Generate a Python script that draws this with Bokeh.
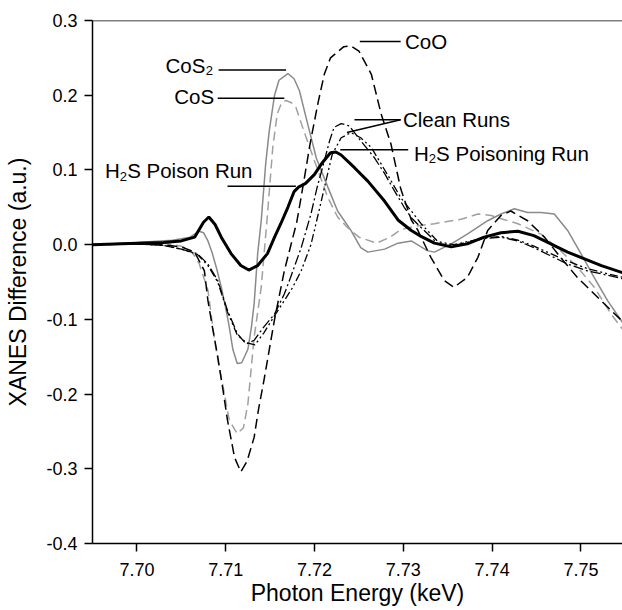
from bokeh.plotting import figure
from bokeh.models import Range1d, FixedTicker, Label, Span, NumeralTickFormatter
from bokeh.embed import file_html
from bokeh.resources import INLINE

# ---------------- data ----------------
# H2S Poison Run (thick black solid)
energy_poison = [7.695, 7.700, 7.703, 7.705, 7.7065, 7.7075, 7.7081, 7.7088, 7.7095, 7.7106,
                 7.7117, 7.7126, 7.7136, 7.7147, 7.7155, 7.7162, 7.7170, 7.7177, 7.7182, 7.7190,
                 7.7200, 7.7209, 7.7218, 7.7224, 7.7230, 7.7245, 7.7260, 7.7279, 7.7294, 7.7309,
                 7.7320, 7.7335, 7.7354, 7.7372, 7.7391, 7.7410, 7.7429, 7.7447, 7.7466, 7.7485,
                 7.7504, 7.7523, 7.7548]
xanes_poison = [0.000, 0.002, 0.003, 0.005, 0.010, 0.030, 0.037, 0.027, 0.010, -0.012,
                -0.028, -0.034, -0.028, -0.012, 0.010, 0.028, 0.050, 0.071, 0.077, 0.082,
                0.094, 0.110, 0.123, 0.124, 0.120, 0.103, 0.085, 0.058, 0.033, 0.019,
                0.011, 0.002, -0.003, 0.001, 0.010, 0.016, 0.018, 0.012, 0.001, -0.010,
                -0.019, -0.028, -0.038]

# CoS2 (gray solid)
energy_cos2 = [7.695, 7.700, 7.704, 7.706, 7.707, 7.7075, 7.708, 7.7085, 7.709, 7.7095,
               7.7100, 7.7104, 7.7108, 7.7113, 7.7118, 7.7125, 7.7129, 7.7132, 7.7136, 7.7140,
               7.7145, 7.7149, 7.7155, 7.7160, 7.7170, 7.7177, 7.7183, 7.7192, 7.7202, 7.7215,
               7.7226, 7.7241, 7.7252, 7.7260, 7.7279, 7.7294, 7.7309, 7.7327, 7.7335, 7.7354,
               7.7372, 7.7395, 7.7410, 7.7425, 7.7440, 7.7455, 7.7470, 7.7485, 7.7500, 7.7515,
               7.7530, 7.7548]
xanes_cos2 = [0.000, 0.003, 0.006, 0.010, 0.018, 0.016, 0.005, -0.012, -0.033, -0.057,
              -0.085, -0.110, -0.140, -0.159, -0.158, -0.140, -0.110, -0.079, -0.012, 0.032,
              0.108, 0.152, 0.200, 0.220, 0.229, 0.222, 0.206, 0.163, 0.116, 0.077,
              0.045, 0.019, -0.004, -0.010, -0.006, 0.002, 0.005, -0.008, -0.010, 0.001,
              0.014, 0.032, 0.041, 0.048, 0.043, 0.043, 0.041, 0.019, -0.012, -0.044,
              -0.075, -0.106]

# CoS (gray dashed)
energy_cos = [7.695, 7.700, 7.703, 7.705, 7.7061, 7.707, 7.708, 7.7087, 7.7092, 7.7097,
              7.7104, 7.7113, 7.7120, 7.7125, 7.7132, 7.7140, 7.7147, 7.7153, 7.7158, 7.7163,
              7.7168, 7.7174, 7.7179, 7.7188, 7.7200, 7.7215, 7.7226, 7.7237, 7.7250, 7.7270,
              7.7285, 7.7297, 7.7315, 7.7335, 7.7365, 7.7384, 7.7399, 7.7415, 7.7429, 7.7455,
              7.7477, 7.7496, 7.7515, 7.7534, 7.7548]
xanes_cos = [0.000, 0.002, 0.002, -0.002, -0.008, -0.025, -0.061, -0.124, -0.160, -0.190,
             -0.235, -0.253, -0.245, -0.213, -0.124, -0.057, 0.040, 0.130, 0.175, 0.190,
             0.193, 0.190, 0.184, 0.152, 0.112, 0.063, 0.037, 0.023, 0.010, 0.002,
             0.010, 0.020, 0.025, 0.028, 0.034, 0.041, 0.039, 0.033, 0.028, 0.014,
             -0.008, -0.030, -0.057, -0.093, -0.115]

# CoO (black dashed)
energy_coo = [7.695, 7.700, 7.703, 7.705, 7.7065, 7.7076, 7.708, 7.7085, 7.7091, 7.7097,
              7.7102, 7.7110, 7.7117, 7.7124, 7.7132, 7.7137, 7.7143, 7.7155, 7.7166, 7.7180,
              7.7188, 7.7195, 7.7204, 7.7211, 7.7218, 7.7233, 7.7241, 7.7250, 7.7264, 7.7275,
              7.7286, 7.7297, 7.7309, 7.7316, 7.7331, 7.7346, 7.7357, 7.7372, 7.7384, 7.7395,
              7.7410, 7.7421, 7.7440, 7.7459, 7.7477, 7.7496, 7.7515, 7.7534, 7.7548]
xanes_coo = [0.000, 0.001, 0.000, -0.003, -0.010, -0.035, -0.075, -0.110, -0.150, -0.195,
             -0.235, -0.285, -0.304, -0.290, -0.258, -0.220, -0.182, -0.100, -0.035, 0.030,
             0.085, 0.135, 0.190, 0.228, 0.250, 0.265, 0.266, 0.259, 0.228, 0.175,
             0.135, 0.075, 0.033, 0.020, -0.017, -0.048, -0.057, -0.044, -0.017, 0.019,
             0.039, 0.045, 0.032, 0.010, -0.017, -0.044, -0.066, -0.088, -0.104]

# Clean run 1 (black dash-dot)
energy_clean1 = [7.695, 7.700, 7.703, 7.705, 7.7068, 7.708, 7.7091, 7.7102, 7.7113, 7.7123,
                 7.7132, 7.7143, 7.7155, 7.7166, 7.7173, 7.7185, 7.7196, 7.7203, 7.7211, 7.7217,
                 7.7222, 7.7230, 7.7239, 7.7245, 7.7252, 7.7267, 7.7279, 7.7290, 7.7301, 7.7309,
                 7.7320, 7.7339, 7.7357, 7.7372, 7.7391, 7.7410, 7.7429, 7.7447, 7.7466, 7.7485,
                 7.7507, 7.7530, 7.7548]
xanes_clean1 = [0.000, 0.001, -0.001, -0.006, -0.012, -0.026, -0.048, -0.088, -0.119, -0.133,
                -0.128, -0.110, -0.093, -0.066, -0.044, -0.004, 0.041, 0.077, 0.112, 0.139,
                0.157, 0.162, 0.159, 0.150, 0.139, 0.117, 0.095, 0.072, 0.050, 0.036,
                0.023, 0.001, -0.001, 0.003, 0.008, 0.010, 0.005, -0.004, -0.015, -0.026,
                -0.035, -0.041, -0.046]

# Clean run 2 (black dash-dot-dot)
energy_clean2 = [7.695, 7.700, 7.703, 7.705, 7.7068, 7.708, 7.7091, 7.7102, 7.7113, 7.7123,
                 7.7133, 7.7143, 7.7155, 7.7166, 7.7175, 7.7185, 7.7196, 7.7205, 7.7213, 7.7220,
                 7.7230, 7.7241, 7.7252, 7.7264, 7.7275, 7.7286, 7.7297, 7.7309, 7.7320, 7.7339,
                 7.7357, 7.7372, 7.7391, 7.7410, 7.7429, 7.7447, 7.7466, 7.7485, 7.7507, 7.7530,
                 7.7548]
xanes_clean2 = [0.000, 0.001, -0.001, -0.006, -0.013, -0.028, -0.050, -0.090, -0.121, -0.131,
                -0.134, -0.118, -0.095, -0.075, -0.058, -0.035, 0.000, 0.045, 0.086, 0.121,
                0.143, 0.150, 0.143, 0.130, 0.108, 0.086, 0.063, 0.045, 0.028, 0.004,
                0.000, 0.004, 0.009, 0.011, 0.006, -0.002, -0.012, -0.022, -0.032, -0.039,
                -0.044]

x_ticks = [7.70, 7.71, 7.72, 7.73, 7.74, 7.75]
x_tick_labels = ["7.70", "7.71", "7.72", "7.73", "7.74", "7.75"]
y_ticks = [-0.4, -0.3, -0.2, -0.1, 0.0, 0.1, 0.2, 0.3]
y_tick_labels = ["-0.4", "-0.3", "-0.2", "-0.1", "0.0", "0.1", "0.2", "0.3"]

# annotation leader lines: (x0, y0, x1, y1)
leaders = [
    (7.7251, 0.272, 7.7297, 0.272),    # CoO
    (7.7092, 0.2336, 7.7168, 0.2336),  # CoS2
    (7.7091, 0.1961, 7.7166, 0.1961),  # CoS
    (7.7102, 0.078, 7.7179, 0.078),    # H2S Poison Run
    (7.7245, 0.1671, 7.7297, 0.1671),  # Clean Runs (1)
    (7.72365, 0.1501, 7.7297, 0.1671), # Clean Runs (2)
    (7.7229, 0.127, 7.73055, 0.127),   # H2S Poisoning Run
]

# ---------------- figure ----------------
FONT = "Liberation Sans"
p = figure(width=622, height=610, output_backend="svg", toolbar_location=None,
           x_range=Range1d(7.695, 7.75468), y_range=Range1d(-0.4, 0.3),
           min_border_left=92, min_border_right=0, min_border_top=20, min_border_bottom=67,
           background_fill_color="white", border_fill_color="white")
p.outline_line_color = None
p.grid.visible = False

p.add_layout(Span(location=0.3, dimension="width", line_color="black", line_width=1.5))

for ax, ticks, labels in ((p.xaxis[0], x_ticks, x_tick_labels), (p.yaxis[0], y_ticks, y_tick_labels)):
    ax.ticker = FixedTicker(ticks=ticks)
    ax.major_label_overrides = {t: l for t, l in zip(ticks, labels)}
    ax.minor_tick_line_color = None
    ax.major_tick_in = 0
    ax.major_tick_out = 8
    ax.axis_line_width = 1.5
    ax.major_tick_line_width = 1.5
    ax.axis_line_color = "black"
    ax.major_tick_line_color = "black"
    ax.major_label_text_font = FONT
    ax.major_label_text_font_size = "18px"
    ax.major_label_text_color = "black"
    ax.axis_label_text_font = FONT
    ax.axis_label_text_font_size = "23px"
    ax.axis_label_text_font_style = "normal"
    ax.axis_label_text_color = "black"

p.xaxis[0].formatter = NumeralTickFormatter(format="0.00")
p.yaxis[0].formatter = NumeralTickFormatter(format="0.0")
p.xaxis[0].axis_label = "Photon Energy (keV)"
p.yaxis[0].axis_label = "XANES Difference (a.u.)"
p.xaxis[0].major_label_standoff = 11
p.xaxis[0].axis_label_standoff = 1
p.yaxis[0].major_label_standoff = 7
p.yaxis[0].axis_label_standoff = 12

# curves
p.line(energy_cos2, xanes_cos2, line_color="#8a8a8a", line_width=1.5)
p.line(energy_cos, xanes_cos, line_color="#a0a0a0", line_width=1.5, line_dash="9 5")
p.line(energy_coo, xanes_coo, line_color="black", line_width=1.5, line_dash="10 5")
p.line(energy_clean1, xanes_clean1, line_color="black", line_width=1.3, line_dash="10 3 2 3")
p.line(energy_clean2, xanes_clean2, line_color="black", line_width=1.3, line_dash="8 3 2 3 2 3")
p.line(energy_poison, xanes_poison, line_color="black", line_width=3)

# leaders
p.segment(x0=[l[0] for l in leaders], y0=[l[1] for l in leaders],
          x1=[l[2] for l in leaders], y1=[l[3] for l in leaders],
          line_color="black", line_width=1.5)

LIFT = 7  # px correction of the text baseline

def lab(x, y, text, size="20.5px", align="left", xo=0, yo=0):
    p.add_layout(Label(x=x, y=y, text=text, text_font=FONT, text_font_size=size,
                       text_align=align, text_baseline="alphabetic", text_color="black",
                       x_offset=xo, y_offset=yo + LIFT))

SUB = "13px"
# CoO
lab(7.73018, 0.263, "CoO")
# CoS2 (right aligned)
lab(7.70856, 0.2303, "2", size=SUB, align="right", yo=-5)
lab(7.70856, 0.2303, "CoS", align="right", xo=-7.5)
# CoS
lab(7.7087, 0.1894, "CoS", align="right")
# H2S Poison Run
lab(7.6964, 0.090, "H")
lab(7.6964, 0.090, "2", size=SUB, xo=14.8, yo=-6)
lab(7.6964, 0.090, "S Poison Run", xo=22.2)
# Clean Runs
lab(7.72995, 0.1578, "Clean Runs")
# H2S Poisoning Run
lab(7.73119, 0.1132, "H")
lab(7.73119, 0.1132, "2", size=SUB, xo=14.8, yo=-5)
lab(7.73119, 0.1132, "S Poisoning Run", xo=22.2)

open("out.html", "w").write(file_html(p, INLINE))
